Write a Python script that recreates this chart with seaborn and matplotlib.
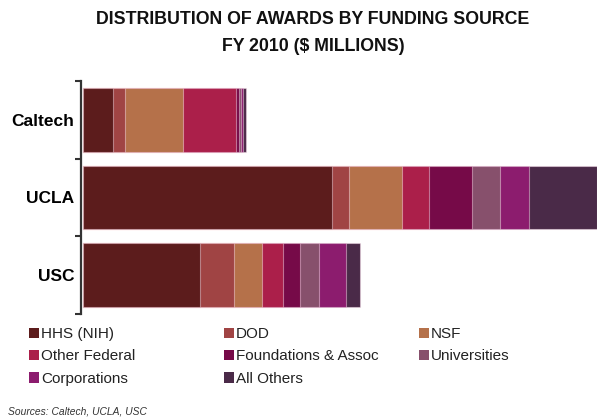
import matplotlib
matplotlib.use("Agg")
import matplotlib.pyplot as plt
import seaborn as sns
import numpy as np
import pandas as pd
from matplotlib.patches import Patch

# ---- data ($ millions) ----
schools = ["Caltech", "UCLA", "USC"]
sources = ["HHS (NIH)", "DOD", "NSF", "Other Federal", "Foundations & Assoc",
           "Universities", "Corporations", "All Others"]
hhs = [59, 497, 234]
dod = [25, 35, 68]
nsf = [115, 106, 56]
other_federal = [107, 53, 41]
foundations = [5, 86, 34]
universities = [4, 57, 39]
corporations = [5, 58, 53]
all_others = [5, 136, 29]

colors = ["#5C1C1C", "#A04444", "#B5714A", "#AB1F4A", "#760A48",
          "#87506C", "#8C1C6E", "#4A2A48"]

series = [hhs, dod, nsf, other_federal, foundations, universities,
          corporations, all_others]

sns.set_theme(style="white")
plt.rcParams['font.family'] = ['Liberation Sans', 'DejaVu Sans']

W, H = 597, 417
fig = plt.figure(figsize=(W / 100, H / 100), dpi=100)
ax = fig.add_axes([81 / W, 1 - 314 / H, 516 / W, 233 / H])

vals = np.array(series, dtype=float)
cum = np.cumsum(vals, axis=0)
for i in reversed(range(len(sources))):
    df = pd.DataFrame({"school": schools, "value": cum[i]})
    sns.barplot(data=df, x="value", y="school", orient="h", color=colors[i],
                saturation=1, width=0.82, ax=ax,
                edgecolor=(1, 0.9, 0.95, 0.45), linewidth=0.8)

ax.set_xlim(-4, 1028)
ax.set_ylim(2.5, -0.5)
ax.set_xlabel("")
ax.set_ylabel("")
ax.set_xticks([])
ax.set_yticks(range(len(schools)))
ax.set_yticklabels(schools, fontsize=12.5, fontweight="bold", color="black")
ax.set_yticks([-0.5, 0.5, 1.5, 2.5], minor=True)
ax.tick_params(axis="y", which="major", length=0, pad=5)
ax.tick_params(axis="y", which="minor", left=True, length=4.5, width=1.5,
               color="#333333", direction="out")
for s in ["top", "right", "bottom"]:
    ax.spines[s].set_visible(False)
ax.spines["left"].set_color("#333333")
ax.spines["left"].set_linewidth(1.6)

# ---- legend in three columns ----
col_items = [[0, 3, 6], [1, 4, 7], [2, 5]]
col_x = [29, 224, 419]
for items, cx in zip(col_items, col_x):
    handles = [Patch(facecolor=colors[k], edgecolor="none", label=sources[k]) for k in items]
    fig.legend(handles=handles, loc="upper left",
               bbox_to_anchor=(cx / W, 1 - 327 / H), frameon=False,
               fontsize=11, handlelength=0.65, handleheight=0.65,
               handletextpad=0.15, labelspacing=0.55, borderpad=0,
               borderaxespad=0, labelcolor="#222222")

fig.text(313 / W, 1 - 33 / H, "DISTRIBUTION OF AWARDS BY FUNDING SOURCE\nFY 2010 ($ MILLIONS)",
         ha="center", va="center", fontsize=12.8, fontweight="bold",
         linespacing=1.75, color="#111111")
fig.text(8 / W, 1 - 411 / H, "Sources: Caltech, UCLA, USC", fontsize=7.4,
         style="italic", va="center", color="#333333")

fig.savefig("out.png", dpi=100)
